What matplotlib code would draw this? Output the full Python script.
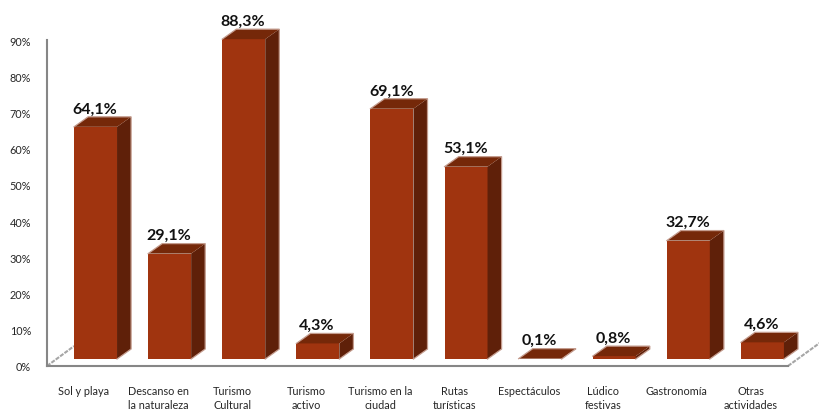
import matplotlib
matplotlib.use('Agg')
import matplotlib.pyplot as plt
from matplotlib.patches import Polygon
from matplotlib.ticker import FuncFormatter

categorias = ['Sol y playa', 'Descanso en\nla naturaleza', 'Turismo\nCultural', 'Turismo\nactivo',
              'Turismo en la\nciudad', 'Rutas\nturísticas', 'Espectáculos', 'Lúdico\nfestivas',
              'Gastronomía', 'Otras\nactividades']
valores = [64.1, 29.1, 88.3, 4.3, 69.1, 53.1, 0.1, 0.8, 32.7, 4.6]
etiquetas = ['64,1%', '29,1%', '88,3%', '4,3%', '69,1%', '53,1%', '0,1%', '0,8%', '32,7%', '4,6%']
ticks_y = [0, 10, 20, 30, 40, 50, 60, 70, 80, 90]

plt.rcParams['font.family'] = ['Lato', 'DejaVu Sans']

# the fake 3d look, all in data units
shift = 0.155
ancho = 0.58
prof_x = 0.19
prof_y = 2.76
suelo = 1.93

frente = '#a0340f'
lado = '#5f2009'
tapa = '#752809'
borde = '#c49c8e'
gris = '#868686'

fig = plt.figure(figsize=(8.2, 4.1), dpi=100)
ax = fig.add_axes([47 / 820, 43 / 410, 741 / 820, 326 / 410])

# floor lines behind the bars
ax.plot([-0.5, -0.5 + 0.365], [0, 5.5], color='#a6a6a6', lw=1.5, ls=(0, (2, 0.6)),
        clip_on=False, zorder=1)
ax.plot([9.5, 9.5 + 0.43], [0, 6.4], color='#a6a6a6', lw=1.5, ls=(0, (2, 0.6)),
        clip_on=False, zorder=1)

for i, v in enumerate(valores):
    x0 = i + shift - ancho / 2
    x1 = i + shift + ancho / 2
    top = suelo + v
    ax.bar(i + shift, v, width=ancho, bottom=suelo, color=frente, zorder=3, clip_on=False)
    ax.add_patch(Polygon([(x1, suelo), (x1 + prof_x, suelo + prof_y),
                          (x1 + prof_x, top + prof_y), (x1, top)],
                         facecolor=lado, edgecolor='none', zorder=3, clip_on=False))
    ax.add_patch(Polygon([(x0, top), (x0 + prof_x, top + prof_y),
                          (x1 + prof_x, top + prof_y), (x1, top)],
                         facecolor=tapa, edgecolor='none', zorder=3, clip_on=False))
    # pale rim on the back edges
    ax.plot([x0, x0 + prof_x, x1 + prof_x, x1 + prof_x, x1],
            [top, top + prof_y, top + prof_y, suelo + prof_y, suelo],
            color=borde, lw=0.9, zorder=4, clip_on=False, solid_joinstyle='miter')
    ax.annotate(etiquetas[i], (i + shift - 0.01, top + prof_y), xytext=(0, 1),
                textcoords='offset points', ha='center', va='bottom',
                fontsize=11.5, fontweight='bold', color='#111111',
                annotation_clip=False, zorder=5)

ax.set_xlim(-0.5, 9.5)
ax.set_ylim(0, 90)
ax.set_xticks(range(len(categorias)))
ax.set_xticklabels(categorias, fontsize=7.8, color='#262626', linespacing=1.35)
ax.set_yticks(ticks_y)
ax.yaxis.set_major_formatter(FuncFormatter(lambda y, _: f'{y:.0f}%'))
ax.tick_params(axis='y', length=0, pad=11.5, labelsize=7.8, labelcolor='#262626')
ax.tick_params(axis='x', length=0, pad=13.5)

for s in ['top', 'right']:
    ax.spines[s].set_visible(False)
for s in ['left', 'bottom']:
    ax.spines[s].set_color(gris)
    ax.spines[s].set_linewidth(1.5)

fig.savefig('out.png', dpi=100)
